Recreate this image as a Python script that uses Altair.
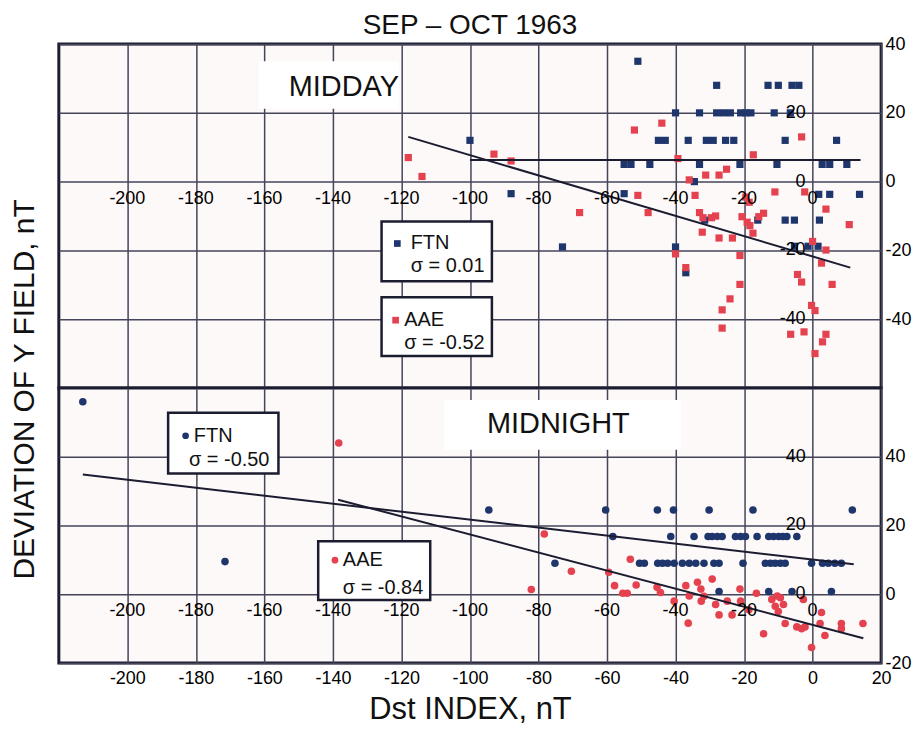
import altair as alt
import pandas as pd

# ---- data ----
# MIDDAY panel (squares)
midday_ftn_x = [-100, -51, -88, -73, -55, -55, -53, -47.5, -45, -43, -40, -40, -37, -34.5, -36.3, -33, -33,
                -31, -29, -31.5, -28, -26, -24, -28, -25.4, -23, -21.2, -21, -19.5, -18, -16, -13, -10,
                -6, -4, -11.2, -6.5, -8, -10.4, -8, -5.3, -5.3, -1.3, 1.6, 2, 1.8, 5, 13.7, 2.8, 5, 10, 7]
midday_ftn_y = [12, 35, -3.5, -19, -3.5, 5, 5, 5, 12, 12, 20, -19, -26.5, 0, 12, 20, 5,
                12, 12, -11.2, 20, 20, 20, 28, 12, 12, 5, 20, 20, 20, -11.2, 28, 28,
                28, 28, 20, 20, 12, 5, -11.2, -11.2, -18.8, -18.8, -18.8, -11.2, -3.7, -3.7, -3.7, 5, 5, 5, 12]

midday_aae_x = [-118, -114, -93, -88, -68, -52, -51, -48, -44, -40, -39.3, -37, -36, -34.3, -31.2, -27.3,
                -25.1, -33, -32, -29.5, -28.3, -32.2, -27.3, -23.4, -21.2, -21.2, -24.1, -26.4, -26.4,
                -19.5, -18.5, -20.6, -19.1, -18.3, -17.4, -15.7, -14.3, -17.3, -11, -3.2, -2.3, 3.9,
                10.7, 0, 3.9, 2.6, -4.4, -3.2, 5.7, -0.3, 0.7, -6.4, -2.5, 3.9, 2.9, 0.7]
midday_aae_y = [7, 1.5, 8, 6, -9, 15, -4, -9, 17, -21, 6.7, -25, 0.5, -4, 1.9, 1.9,
                3.6, -9, -10.5, -10.5, -10, -14.7, -16.4, -16.4, -21.5, -29.9, -34.1, -37.3, -42.6,
                -4.5, -6, -10.2, -11.8, -12.8, -15, -10.2, -9.2, 7.8, -3, 13, -3, -8,
                -12.5, -17.4, -19.9, -23.7, -27, -29.2, -29.9, -36, -37.5, -44.4, -43.7, -44.4, -46.6, -50]

# MIDNIGHT panel (circles)
midnight_ftn_x = [-213, -171.5, -94.5, -75.2, -60.4, -58.3, -50.5, -49.1, -45.3, -45.2, -43.8, -42.3, -40.6,
                  -41.4, -40.4, -38, -36, -34.6, -34.1, -31.7, -30.2, -30.5, -29.3, -27.8, -28.8, -27.3,
                  -27.3, -26.4, -22.5, -21, -19.6, -20.3, -17.4, -16.2, -13.8, -12.8, -12.8, -12.3, -11.4,
                  -10.9, -9.9, -9.4, -8.7, -8, -7.5, -6, -4.6, -0.3, 2.9, 4.6, 5.5, 6.5, 8.4, 11.6]
midnight_ftn_y = [56, 9.5, 24.5, 9, 24.5, 16.8, 9, 9, 24.5, 9, 9, 9, 24.5,
                  16.8, 9, 9, 9, 16.8, 9, 9, 24.5, 16.8, 16.8, 16.8, 9, 9,
                  0.8, 16.8, 16.8, 16.8, 16.8, 9, 24.5, 16.8, 9, 16.8, 0.8, 9, 16.8,
                  9, 16.8, 9, 16.8, 9, 16.8, 0.8, 16.8, 9, 9, 9, 0.8, 9, 9, 24.5]

midnight_aae_x = [-138.3, -82.1, -78.3, -70.4, -59.5, -57.8, -55.4, -54.1, -53.2, -51.5, -45.4, -44.4, -40.4,
                  -37, -36, -36.3, -33.6, -32.6, -32.5, -31.7, -29.3, -28.3, -27.3, -24.9, -23.5, -21.2,
                  -21, -18.6, -16.4, -14.3, -11.9, -10.9, -10, -9.4, -8.5, -10.3, -8, -4.6, -3.2, -2.2,
                  -2.7, -0.3, 2.6, 2.2, 3.6, 8.4, 8.4, 14.7]
midnight_aae_y = [44, 1.4, 17.5, 6.7, 6.4, 2.5, 0.3, 0.3, 10.2, 2.7, 2, 0.5, -2,
                  2.5, -0.5, -8.4, 3.5, 1.5, -2, -0.6, 4.4, -3, -6, -2, -6, 1.5,
                  -2, -4.5, 0.3, -11.5, -1.5, -3.5, -5, -1, -3, -0.5, -8.5, -9.5, -10, -9.5,
                  -1.5, -15.5, -5.3, -8.5, -12, -8.5, -10, -8.5]

# fitted lines (end points)
midday_fit_series = ["FTN", "FTN", "AAE", "AAE"]
midday_fit_x = [-100, 14, -118, 11]
midday_fit_y = [6.3, 6.3, 13, -25]
midnight_fit_series = ["FTN", "FTN", "AAE", "AAE"]
midnight_fit_x = [-213, 12, -138.5, 14.8]
midnight_fit_y = [34.8, 8.7, 27.5, -12.8]

# tick labels
x_grid = [-200, -180, -160, -140, -120, -100, -80, -60, -40, -20, 0, 20]
inner_x_labels = [-200, -180, -160, -140, -120, -100, -80, -60, -40, -20, 0]
midday_y_ticks = [-40, -20, 0, 20, 40]
midnight_y_ticks = [-20, 0, 20, 40]
midday_inner_y = [-40, -20, 0, 20]
midnight_inner_y = [0, 20, 40]

FONT = "Liberation Sans"
BLUE = "#1f366c"
RED = "#e4424e"
INK = "#1c1c30"
GRID = "#45455a"

X_SCALE = alt.Scale(domain=[-220, 20], nice=False, zero=False)
W = 825
PLAIN = "'' + datum.value"  # ascii hyphen for negatives


def make_panel(mark, ftn_x, ftn_y, aae_x, aae_y, fit_s, fit_x, fit_y, y_domain, y_ticks, inner_y,
               height, bottom, boxes, notes, keys, label_box, label):
    y_scale = alt.Scale(domain=y_domain, nice=False, zero=False)
    if bottom:
        x_axis = alt.Axis(values=x_grid, grid=True, ticks=False, tickSize=0, domain=False, labelFlush=False,
                          labelOverlap=False, labelPadding=7, labelExpr=PLAIN, title="Dst INDEX, nT",
                          titleFontSize=31, titlePadding=7, titleFontWeight="normal")
        y_axis = alt.Axis(orient="right", values=y_ticks, grid=True, ticks=False, tickSize=0, domain=False,
                          labelPadding=4, labelOverlap=False, labelBaseline="middle", labelExpr=PLAIN,
                          title=None)
    else:
        x_axis = alt.Axis(values=x_grid, grid=True, labels=False, ticks=False, tickSize=0, domain=False,
                          title=None)
        y_axis = alt.Axis(orient="right", values=y_ticks, grid=True, ticks=False, tickSize=0, domain=False,
                          labelPadding=4, labelOverlap=False, labelBaseline="middle", labelExpr=PLAIN,
                          title="DEVIATION OF Y FIELD, nT", titleAngle=270, titleX=-(W + 34),
                          titleY=346, titleAlign="center", titleBaseline="middle", titleFontSize=30,
                          titleFontWeight="normal")

    def xe(f):
        return alt.X(f, type="quantitative", scale=X_SCALE, axis=x_axis)

    def ye(f):
        return alt.Y(f, type="quantitative", scale=y_scale, axis=y_axis)

    pts = pd.concat([
        pd.DataFrame({"x": ftn_x, "y": ftn_y, "s": "FTN"}),
        pd.DataFrame({"x": aae_x, "y": aae_y, "s": "AAE"}),
    ])
    color = alt.Color("s:N", scale=alt.Scale(domain=["FTN", "AAE"], range=[BLUE, RED]), legend=None)

    if mark == "square":
        points = alt.Chart(pts).mark_square(size=52, opacity=1)
    else:
        points = alt.Chart(pts).mark_circle(size=58, opacity=1)
    points = points.encode(x=xe("x"), y=ye("y"), color=color)

    fit = alt.Chart(pd.DataFrame({"x": fit_x, "y": fit_y, "s": fit_s})).mark_line(
        color=INK, strokeWidth=2).encode(x=xe("x"), y=ye("y"), detail="s:N")

    xl = pd.DataFrame({"x": inner_x_labels, "y": 0, "t": [str(v) for v in inner_x_labels]})
    xlab = alt.Chart(xl).mark_text(baseline="top", dy=8, fontSize=18, font=FONT, color="black").encode(
        x=xe("x"), y=ye("y"), text="t:N")
    yl = pd.DataFrame({"x": 0, "y": inner_y, "t": [str(v) for v in inner_y]})
    ylab = alt.Chart(yl).mark_text(align="right", baseline="middle", dx=-7, fontSize=18, font=FONT,
                                   color="black").encode(x=xe("x"), y=ye("y"), text="t:N")

    lb = alt.Chart(pd.DataFrame([label_box])).mark_rect(fill="white").encode(
        x=xe("x"), x2="x2:Q", y=ye("y"), y2="y2:Q")
    lt = alt.Chart(pd.DataFrame([label])).mark_text(fontSize=29, font=FONT, color="#111").encode(
        x=xe("x"), y=ye("y"), text="t:N")

    bx = alt.Chart(pd.DataFrame(boxes)).mark_rect(fill="white", stroke=INK, strokeWidth=2.5).encode(
        x=xe("x"), x2="x2:Q", y=ye("y"), y2="y2:Q")
    nt = alt.Chart(pd.DataFrame(notes)).mark_text(align="left", baseline="middle", fontSize=20,
                                                  font=FONT, color="#111").encode(
        x=xe("x"), y=ye("y"), text="t:N")
    if mark == "square":
        km = alt.Chart(pd.DataFrame(keys)).mark_square(size=45, opacity=1)
    else:
        km = alt.Chart(pd.DataFrame(keys)).mark_circle(size=45, opacity=1)
    km = km.encode(x=xe("x"), y=ye("y"), color=color)

    chart = alt.layer(lb, lt, bx, nt, km, points, fit, xlab, ylab).properties(width=W, height=height)
    if not bottom:
        chart = chart.properties(title=alt.TitleParams("SEP – OCT 1963", fontSize=28, font=FONT,
                                                       fontWeight="normal", anchor="middle",
                                                       frame="group", offset=-5, color="#111"))
    return chart


top = make_panel(
    "square", midday_ftn_x, midday_ftn_y, midday_aae_x, midday_aae_y,
    midday_fit_series, midday_fit_x, midday_fit_y, [-60, 40], midday_y_ticks, midday_inner_y,
    345, False,
    boxes=[{"x": -125.8, "x2": -93.6, "y": -11.6, "y2": -29},
           {"x": -125.8, "x2": -93.6, "y": -33.6, "y2": -50.7}],
    notes=[{"x": -117.3, "y": -18, "t": "FTN"}, {"x": -117.3, "y": -24.6, "t": "σ = 0.01"},
           {"x": -119.2, "y": -40.3, "t": "AAE"}, {"x": -119.2, "y": -47, "t": "σ = -0.52"}],
    keys=[{"x": -121.2, "y": -18, "s": "FTN"}, {"x": -121.7, "y": -40.3, "s": "AAE"}],
    label_box={"x": -161.7, "x2": -120.8, "y": 35, "y2": 21.2},
    label={"x": -136.8, "y": 27.5, "t": "MIDDAY"},
)

bottom = make_panel(
    "circle", midnight_ftn_x, midnight_ftn_y, midnight_aae_x, midnight_aae_y,
    midnight_fit_series, midnight_fit_x, midnight_fit_y, [-20, 60], midnight_y_ticks, midnight_inner_y,
    276, True,
    boxes=[{"x": -188.1, "x2": -155.9, "y": 52.8, "y2": 35.1},
           {"x": -144.3, "x2": -111.6, "y": 15.4, "y2": -1.7}],
    notes=[{"x": -180.6, "y": 46.1, "t": "FTN"}, {"x": -182, "y": 39.1, "t": "σ = -0.50"},
           {"x": -137.1, "y": 9.9, "t": "AAE"}, {"x": -137.1, "y": 1.7, "t": "σ = -0.84"}],
    keys=[{"x": -183, "y": 46.1, "s": "FTN"}, {"x": -139.4, "y": 9.9, "s": "AAE"}],
    label_box={"x": -107.5, "x2": -38.5, "y": 56.5, "y2": 42},
    label={"x": -74.2, "y": 49.6, "t": "MIDNIGHT"},
)

chart = alt.vconcat(top, bottom, spacing=0, bounds="flush").properties(
    padding={"left": 0, "top": 1, "right": 0, "bottom": 0},
    background="white",
).configure_view(
    stroke=INK, strokeWidth=3, fill="#fdf9f9"
).configure_axis(
    gridColor=GRID, gridWidth=1.5, gridOpacity=1,
    labelFont=FONT, labelFontSize=18, labelColor="black",
    titleFont=FONT, titleColor="#111",
)

chart.save("out.html", embed_options={"renderer": "svg", "actions": False})
